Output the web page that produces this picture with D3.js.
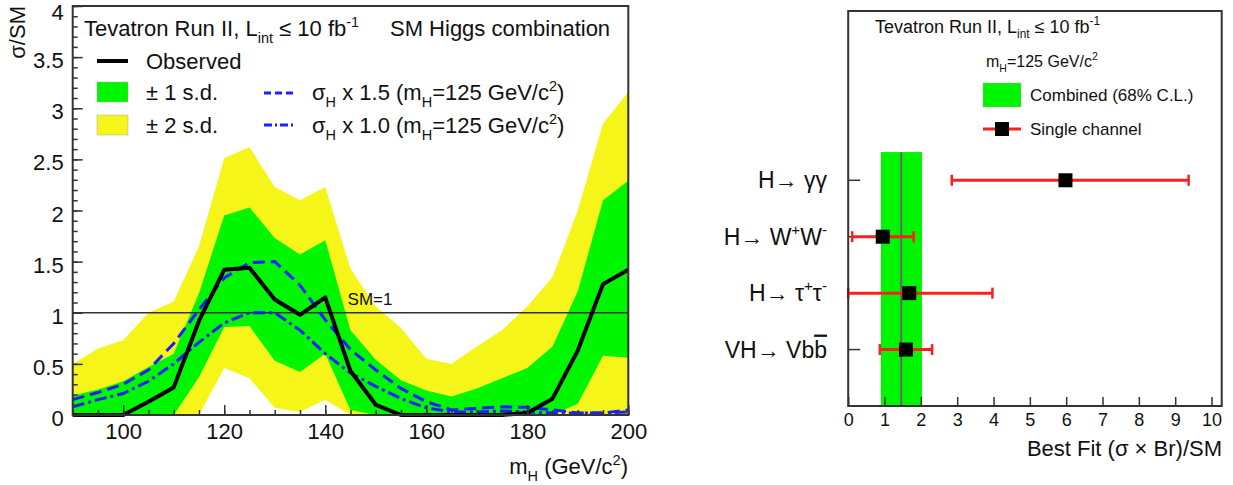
<!DOCTYPE html>
<html>
<head>
<meta charset="utf-8">
<script src="https://cdn.jsdelivr.net/npm/d3@7"></script>
<style>
  html, body { margin: 0; background: #fff; }
  svg { display: block; font-family: "Liberation Sans", Arial, Helvetica, sans-serif; }
</style>
</head>
<body>
<svg id="chart" width="1233" height="485"></svg>
<script>
/* ---------- left panel: sigma/SM vs mH ---------- */
const massPoints = [90, 95, 100, 105, 110, 115, 120, 125, 130, 135, 140, 145, 150, 155, 160, 165, 170, 175, 180, 185, 190, 195, 200];
const observed   = [0, 0, 0, 0.13, 0.27, 0.92, 1.42, 1.44, 1.13, 0.98, 1.15, 0.43, 0.10, 0, 0, 0, 0, 0, 0.02, 0.16, 0.63, 1.28, 1.42];
const plus2sd    = [0.50, 0.65, 0.73, 1.00, 1.11, 1.65, 2.51, 2.62, 2.23, 2.10, 2.23, 1.43, 1.06, 0.85, 0.55, 0.50, 0.67, 0.83, 1.06, 1.35, 2.00, 2.85, 3.16];
const plus1sd    = [0.19, 0.25, 0.33, 0.47, 0.60, 1.19, 1.95, 2.03, 1.73, 1.57, 1.71, 0.83, 0.54, 0.34, 0.24, 0.18, 0.26, 0.36, 0.46, 0.67, 1.21, 2.10, 2.29];
const minus1sd   = [0, 0, 0, 0, 0, 0.37, 0.86, 0.87, 0.53, 0.42, 0.60, 0.05, 0, 0, 0, 0, 0, 0, 0, 0, 0.11, 0.58, 0.56];
const minus2sd   = [0, 0, 0, 0, 0, 0, 0.46, 0.36, 0.07, 0.03, 0.15, 0, 0, 0, 0, 0, 0, 0, 0, 0, 0, 0, 0];
const sigH15     = [0.15, 0.22, 0.30, 0.44, 0.70, 1.03, 1.34, 1.49, 1.50, 1.27, 0.93, 0.64, 0.44, 0.26, 0.13, 0.05, 0.065, 0.08, 0.075, 0.05, 0.02, 0.02, 0.05];
const sigH10     = [0.08, 0.15, 0.21, 0.33, 0.50, 0.71, 0.90, 1.00, 1.00, 0.83, 0.60, 0.41, 0.28, 0.16, 0.07, 0.03, 0.03, 0.04, 0.03, 0.02, 0.02, 0.02, 0.03];
const massTicks  = [100, 120, 140, 160, 180, 200];
const ratioTicks = [0, 0.5, 1, 1.5, 2, 2.5, 3, 3.5, 4];

/* ---------- right panel: best fit per channel ---------- */
const channels   = ['H\u2192 \u03b3\u03b3', 'H\u2192 W^{+}W^{-}', 'H\u2192 \u03c4^{+}\u03c4^{-}', 'VH\u2192 Vb#bar{b}'];
const channelRow = [4, 3, 2, 1];
const bestFit    = [5.98, 0.95, 1.68, 1.59];
const fitLow     = [2.85, 0.11, 0.00, 0.87];
const fitHigh    = [9.37, 1.80, 3.97, 2.31];
const combinedLo = 0.90, combinedHi = 2.03, combinedFit = 1.46;
const fitTicks   = [0, 1, 2, 3, 4, 5, 6, 7, 8, 9, 10];

(function () {
    const GREEN  = '#00f500';
    const YELLOW = '#f5f51a';
    const BLUE   = '#1e1eff';
    const RED    = '#ff1e1e';
    const FRAME  = '#333';

    const svg = d3.select('#chart');

    // ROOT-like text: ^{..} superscript, _{..} subscript, #bar{..} overline
    function latex(t, str, size) {
        let shift = 0;
        str.split(/(\^\{[^}]*\}|_\{[^}]*\}|#bar\{[^}]*\})/).filter(s => s !== '').forEach(p => {
            let target = 0, txt = p, fs = size, bar = false;
            if (p.startsWith('^{'))      { target = -0.42 * size; txt = p.slice(2, -1); fs = 0.66 * size; }
            else if (p.startsWith('_{')) { target =  0.30 * size; txt = p.slice(2, -1); fs = 0.66 * size; }
            else if (p.startsWith('#bar{')) { txt = p.slice(5, -1); bar = true; }
            const ts = t.append('tspan').attr('dy', target - shift).style('font-size', fs + 'px').text(txt);
            if (bar) ts.style('text-decoration', 'overline');
            shift = target;
        });
        return t;
    }
    function label(x, y, str, size, anchor) {
        const t = svg.append('text').attr('x', x).attr('y', y)
            .attr('text-anchor', anchor || 'start').attr('fill', '#111')
            .style('font-size', size + 'px');
        return latex(t, str, size);
    }

    /* ==================== left panel ==================== */
    const L = { left: 72.7, right: 628.3, top: 6, bottom: 415 };
    const xL = d3.scaleLinear().domain([90, 200]).range([L.left, L.right]);
    const yL = d3.scaleLinear().domain([0, 4]).range([L.bottom, L.top]);
    const rows = massPoints.map((m, i) => ({ m, obs: observed[i], p2: plus2sd[i], p1: plus1sd[i],
        m1: minus1sd[i], m2: minus2sd[i], s15: sigH15[i], s10: sigH10[i] }));

    const left = svg.append('g');
    left.append('path').datum(rows).attr('fill', YELLOW)
        .attr('d', d3.area().x(d => xL(d.m)).y0(d => yL(d.m2)).y1(d => yL(d.p2)));
    left.append('path').datum(rows).attr('fill', GREEN)
        .attr('d', d3.area().x(d => xL(d.m)).y0(d => yL(d.m1)).y1(d => yL(d.p1)));

    // SM = 1
    left.append('line').attr('x1', L.left).attr('x2', L.right)
        .attr('y1', yL(1)).attr('y2', yL(1)).attr('stroke', FRAME).attr('stroke-width', 1.5);
    label(370, yL(1) - 8, 'SM=1', 17, 'middle');

    left.append('path').datum(rows).attr('fill', 'none').attr('stroke', BLUE)
        .attr('stroke-width', 3).attr('stroke-dasharray', '12,6')
        .attr('d', d3.line().x(d => xL(d.m)).y(d => yL(d.s15)));
    left.append('path').datum(rows).attr('fill', 'none').attr('stroke', BLUE)
        .attr('stroke-width', 3).attr('stroke-dasharray', '12,4,3,4')
        .attr('d', d3.line().x(d => xL(d.m)).y(d => yL(d.s10)));
    left.append('path').datum(rows).attr('fill', 'none').attr('stroke', '#000')
        .attr('stroke-width', 4).attr('stroke-linejoin', 'round')
        .attr('d', d3.line().x(d => xL(d.m)).y(d => yL(d.obs)));

    // axes (ticks inward, ROOT style)
    const axL = left.append('g').attr('transform', `translate(${L.left},0)`)
        .call(d3.axisLeft(yL).tickValues(ratioTicks).tickSize(-10).tickPadding(9)
            .tickFormat(d => d));
    left.append('g').attr('transform', `translate(${L.left},0)`)
        .call(d3.axisLeft(yL).tickValues(d3.range(0, 4.001, 0.1)).tickSize(-5).tickFormat(''));
    const axB = left.append('g').attr('transform', `translate(0,${L.bottom})`)
        .call(d3.axisBottom(xL).tickValues(massTicks).tickSize(-10).tickPadding(8));
    left.append('g').attr('transform', `translate(0,${L.bottom})`)
        .call(d3.axisBottom(xL).tickValues(d3.range(90, 200.1, 5)).tickSize(-5).tickFormat(''));
    left.selectAll('.domain').remove();
    left.selectAll('.tick line').attr('stroke', FRAME).attr('stroke-width', 1.5);
    axL.selectAll('text').style('font-size', '22px').attr('fill', '#111')
        .attr('dy', d => d === 4 ? '0.62em' : '0.48em');
    axB.selectAll('text').style('font-size', '22px').attr('fill', '#111');

    left.append('rect').attr('x', L.left).attr('y', L.top)
        .attr('width', L.right - L.left).attr('height', L.bottom - L.top)
        .attr('fill', 'none').attr('stroke', FRAME).attr('stroke-width', 2);

    label(628, 474, 'm_{H} (GeV/c^{2})', 22, 'end');
    const yTitle = svg.append('text').attr('text-anchor', 'end').attr('fill', '#111')
        .attr('transform', 'translate(25,6) rotate(-90)').style('font-size', '22px');
    latex(yTitle, '\u03c3/SM', 22);

    // legend
    label(84, 36, 'Tevatron Run II, L_{int} \u2264 10 fb^{-1}', 22);
    label(390, 36, 'SM Higgs combination', 22);
    left.append('line').attr('x1', 97).attr('x2', 128).attr('y1', 61).attr('y2', 61)
        .attr('stroke', '#000').attr('stroke-width', 4);
    label(146, 68.5, 'Observed', 22);
    left.append('rect').attr('x', 97).attr('y', 82).attr('width', 31).attr('height', 20)
        .attr('fill', GREEN).attr('stroke', '#aaa').attr('stroke-width', 0.5);
    label(146, 100, '\u00b1 1 s.d.', 22);
    left.append('rect').attr('x', 97).attr('y', 115).attr('width', 31).attr('height', 20)
        .attr('fill', YELLOW).attr('stroke', '#aaa').attr('stroke-width', 0.5);
    label(146, 133, '\u00b1 2 s.d.', 22);
    left.append('line').attr('x1', 264).attr('x2', 293).attr('y1', 93).attr('y2', 93)
        .attr('stroke', BLUE).attr('stroke-width', 3).attr('stroke-dasharray', '7,4');
    label(312, 100, '\u03c3_{H} x 1.5 (m_{H}=125 GeV/c^{2})', 22);
    left.append('line').attr('x1', 264).attr('x2', 293).attr('y1', 125).attr('y2', 125)
        .attr('stroke', BLUE).attr('stroke-width', 3).attr('stroke-dasharray', '8,3,2,3');
    label(312, 133, '\u03c3_{H} x 1.0 (m_{H}=125 GeV/c^{2})', 22);

    /* ==================== right panel ==================== */
    const R = { left: 848.2, right: 1221.7, top: 11, bottom: 406 };
    const xR = d3.scaleLinear().domain([0, 10.28]).range([R.left, R.right]);
    const yR = d3.scaleLinear().domain([0, 7]).range([R.bottom, R.top]);
    const right = svg.append('g');

    right.append('rect').attr('x', xR(combinedLo)).attr('y', yR(4.5))
        .attr('width', xR(combinedHi) - xR(combinedLo)).attr('height', yR(0) - yR(4.5))
        .attr('fill', GREEN);
    right.append('line').attr('x1', xR(combinedFit)).attr('x2', xR(combinedFit))
        .attr('y1', yR(4.5)).attr('y2', yR(0)).attr('stroke', '#666').attr('stroke-width', 2);

    const axR = right.append('g').attr('transform', `translate(0,${R.bottom})`)
        .call(d3.axisBottom(xR).tickValues(fitTicks).tickSize(-9).tickPadding(7));
    axR.select('.domain').remove();
    axR.selectAll('.tick line').attr('stroke', FRAME).attr('stroke-width', 1.5);
    axR.selectAll('text').style('font-size', '18px').attr('fill', '#111');

    right.selectAll('line.ytick').data(channelRow).join('line').attr('class', 'ytick')
        .attr('x1', R.left).attr('x2', R.left + 12)
        .attr('y1', d => yR(d)).attr('y2', d => yR(d))
        .attr('stroke', FRAME).attr('stroke-width', 1.5);

    const bars = right.selectAll('g.chan').data(channels).join('g').attr('class', 'chan');
    bars.append('line').attr('x1', (d, i) => xR(fitLow[i])).attr('x2', (d, i) => xR(fitHigh[i]))
        .attr('y1', (d, i) => yR(channelRow[i])).attr('y2', (d, i) => yR(channelRow[i]))
        .attr('stroke', RED).attr('stroke-width', 3);
    [fitLow, fitHigh].forEach(arr => {
        bars.append('line').attr('x1', (d, i) => xR(arr[i])).attr('x2', (d, i) => xR(arr[i]))
            .attr('y1', (d, i) => yR(channelRow[i]) - 5.5).attr('y2', (d, i) => yR(channelRow[i]) + 5.5)
            .attr('stroke', RED).attr('stroke-width', 2.5);
    });
    bars.append('rect').attr('x', (d, i) => xR(bestFit[i]) - 7).attr('y', (d, i) => yR(channelRow[i]) - 7)
        .attr('width', 14).attr('height', 14).attr('fill', '#000');
    channels.forEach((c, i) => label(827, yR(channelRow[i]) + 8, c, 23, 'end'));

    right.append('rect').attr('x', R.left).attr('y', R.top)
        .attr('width', R.right - R.left).attr('height', R.bottom - R.top)
        .attr('fill', 'none').attr('stroke', FRAME).attr('stroke-width', 2);

    label(1222, 456, 'Best Fit (\u03c3 \u00d7 Br)/SM', 22, 'end');

    // legend
    label(875, 33, 'Tevatron Run II, L_{int} \u2264 10 fb^{-1}', 18);
    label(986, 67, 'm_{H}=125 GeV/c^{2}', 16);
    right.append('rect').attr('x', 983).attr('y', 83).attr('width', 38).attr('height', 24)
        .attr('fill', GREEN).attr('stroke', '#aaa').attr('stroke-width', 0.5);
    label(1030, 101, 'Combined (68% C.L.)', 17);
    right.append('line').attr('x1', 983).attr('x2', 1021).attr('y1', 129).attr('y2', 129)
        .attr('stroke', RED).attr('stroke-width', 3);
    right.append('rect').attr('x', 995).attr('y', 122).attr('width', 14).attr('height', 14).attr('fill', '#000');
    label(1030, 135, 'Single channel', 17);
})();
</script>
</body>
</html>
